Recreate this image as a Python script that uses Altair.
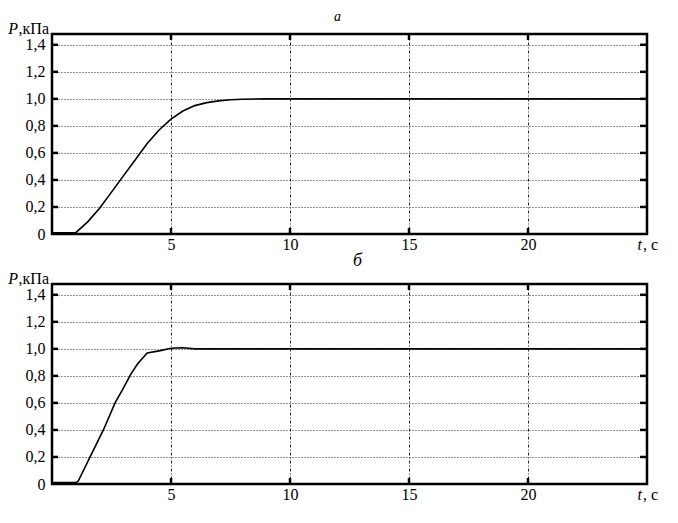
import altair as alt
import pandas as pd

# ---- data ----
t_a = [0, 1.0, 1.5, 2.0, 2.5, 3.0, 3.5, 4.0, 4.5, 5.0, 5.5, 6.0, 6.5, 7.0, 7.5, 8.0, 9.0, 25]
p_a = [0.008, 0.01, 0.09, 0.19, 0.31, 0.43, 0.55, 0.67, 0.77, 0.85, 0.91, 0.95, 0.972, 0.985, 0.993, 0.997, 1.0, 1.0]

t_b = [0, 1.0, 1.1, 1.6, 2.16, 2.65, 3.0, 3.3, 3.6, 4.0, 4.5, 5.0, 5.5, 6.0, 25]
p_b = [0.01, 0.01, 0.02, 0.2, 0.4, 0.6, 0.71, 0.81, 0.89, 0.97, 0.985, 1.005, 1.008, 1.0, 1.0]

y_ticks = [0, 0.2, 0.4, 0.6, 0.8, 1.0, 1.2, 1.4]
x_ticks = [5, 10, 15, 20]
x_domain = [0, 25]
y_domain = [0, 1.48]

W, H = 595, 200
FONT = "Liberation Serif"


def panel(t, p, letter, letter_dx, letter_dy, letter_size):
    xs = alt.Scale(domain=x_domain, nice=False, zero=False)
    ys = alt.Scale(domain=y_domain, nice=False, zero=False)
    x_axis = alt.Axis(values=x_ticks, title=None, grid=True, ticks=False, tickSize=0,
                      domain=False, labelPadding=15.5, labelBaseline="alphabetic",
                      gridDash=[3, 2, 1, 2])
    y_axis = alt.Axis(values=y_ticks, title=None, grid=True, ticks=False, tickSize=0,
                      domain=False, labelPadding=7,
                      labelExpr="datum.value == 0 ? '0' : replace(format(datum.value, '.1f'), '.', ',')",
                      gridDash=[1, 2])

    df = pd.DataFrame({"t": t, "p": p})
    line = alt.Chart(df).mark_line(color="black", strokeWidth=1.6, clip=True).encode(
        x=alt.X("t:Q", scale=xs, axis=x_axis),
        y=alt.Y("p:Q", scale=ys, axis=y_axis),
    )

    frame = alt.Chart(pd.DataFrame({"k": [0]})).mark_rect(
        fill=None, stroke="black", strokeWidth=2.5
    ).encode(x=alt.value(0), x2=alt.value(W), y=alt.value(0), y2=alt.value(H))

    yt = pd.DataFrame({"v": y_ticks[1:]})
    xt = pd.DataFrame({"v": x_ticks})
    left_ticks = alt.Chart(yt).mark_rule(color="black", strokeWidth=2.5).encode(
        y=alt.Y("v:Q", scale=ys, axis=y_axis), x=alt.value(0), x2=alt.value(6))
    right_ticks = alt.Chart(yt).mark_rule(color="black", strokeWidth=2.5).encode(
        y=alt.Y("v:Q", scale=ys, axis=y_axis), x=alt.value(W - 7), x2=alt.value(W))
    bottom_ticks = alt.Chart(xt).mark_rule(color="black", strokeWidth=2.5).encode(
        x=alt.X("v:Q", scale=xs, axis=x_axis), y=alt.value(H - 6), y2=alt.value(H))
    top_ticks = alt.Chart(xt).mark_rule(color="black", strokeWidth=2.5).encode(
        x=alt.X("v:Q", scale=xs, axis=x_axis), y=alt.value(0), y2=alt.value(6))

    def label(s, x, y, align, italic=False, size=16, dx=0, dy=0):
        return alt.Chart(pd.DataFrame({"s": [s]})).mark_text(
            font=FONT, fontSize=size, fontStyle="italic" if italic else "normal",
            align=align, baseline="alphabetic", color="black", dx=dx, dy=dy,
        ).encode(x=alt.value(x), y=alt.value(y), text="s:N")

    p_lab = label("P", -34, 0, "right", italic=True)
    unit_lab = label(",кПа", -3, 0, "right")
    t_lab = label("t", W - 5, H + 15.5, "right", italic=True)
    c_lab = label(", c", W - 4, H + 15.5, "left")
    letter_lab = label(letter, W / 2 + letter_dx, -letter_dy, "center", italic=True, size=letter_size)

    return alt.layer(line, left_ticks, right_ticks, bottom_ticks, top_ticks, frame,
                     p_lab, unit_lab, t_lab, c_lab, letter_lab).properties(width=W, height=H)


top = panel(t_a, p_a, "а", -12, 13, 14)
bottom = panel(t_b, p_b, "б", 8, 18, 18)

chart = alt.vconcat(top, bottom, spacing=50, bounds="flush").properties(
    padding={"left": 0, "top": 2, "right": 5, "bottom": 5}
).configure_view(
    stroke=None
).configure_axis(
    labelFont=FONT, labelFontSize=16, labelColor="black",
    gridColor="black", gridWidth=1, gridOpacity=0.85,
)

chart.save("out.html", embed_options={"renderer": "svg", "actions": False})
